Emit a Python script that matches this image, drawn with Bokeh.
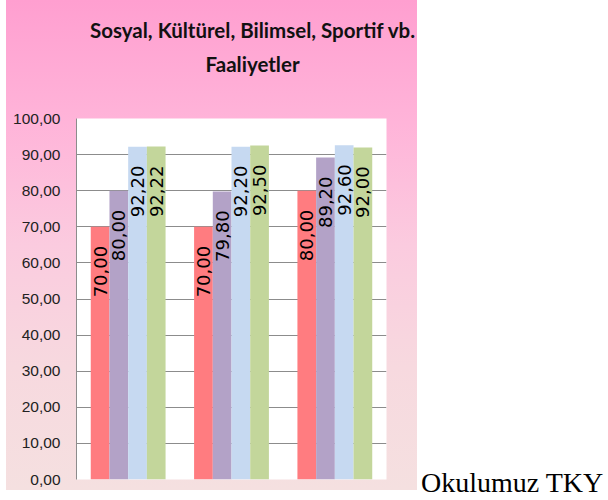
import math
from bokeh.plotting import figure
from bokeh.models import ColumnDataSource, FactorRange, Range1d, FixedTicker, Div
from bokeh.transform import dodge
from bokeh.layouts import row, column
from bokeh.core.properties import value
from bokeh.embed import file_html
from bokeh.resources import INLINE

# ---- data ----
categories = ["Grup 1", "Grup 2", "Grup 3"]
series_names = ["Seri 1", "Seri 2", "Seri 3", "Seri 4"]
series1 = [70.00, 70.00, 80.00]
series2 = [80.00, 79.80, 89.20]
series3 = [92.20, 92.20, 92.60]
series4 = [92.22, 92.50, 92.00]
y_ticks = [0, 10, 20, 30, 40, 50, 60, 70, 80, 90, 100]
y_tick_labels = ["0,00", "10,00", "20,00", "30,00", "40,00", "50,00",
                 "60,00", "70,00", "80,00", "90,00", "100,00"]
title_line1 = "Sosyal, Kültürel, Bilimsel, Sportif vb."
title_line2 = "Faaliyetler"
side_text = "Okulumuz TKY"

colors = ["#ff7c80", "#b3a2c7", "#c6d9f1", "#c3d69b"]
bar_w = 0.181
offsets = [-1.5 * bar_w, -0.5 * bar_w, 0.5 * bar_w, 1.5 * bar_w]

def fmt(v):
    return f"{v:.2f}".replace(".", ",")

all_series = [series1, series2, series3, series4]
data = {"cat": categories}
for i, s in enumerate(all_series):
    data[f"s{i}"] = s
    data[f"l{i}"] = [fmt(v) for v in s]
source = ColumnDataSource(data)

p = figure(x_range=FactorRange(*categories), y_range=Range1d(0, 100),
           width=411, height=382, output_backend="svg", toolbar_location=None,
           min_border_left=70, min_border_right=31, min_border_top=10,
           min_border_bottom=11)

p.border_fill_color = None
p.background_fill_color = "white"
p.outline_line_color = None

for i, s in enumerate(all_series):
    p.vbar(x=dodge("cat", offsets[i], range=p.x_range), top=f"s{i}", width=bar_w,
           source=source, fill_color=colors[i], line_color=None)
    p.text(x=dodge("cat", offsets[i], range=p.x_range), y=f"s{i}", text=f"l{i}",
           source=source, angle=math.pi / 2, text_align="right",
           text_baseline="middle", y_offset=19, text_color="black",
           text_font=value("DejaVu Sans"), text_font_size="18px")

p.xaxis.visible = False
p.xgrid.grid_line_color = None
p.ygrid.grid_line_color = "#8c8c8c"
p.ygrid.ticker = FixedTicker(ticks=y_ticks)

ax = p.yaxis[0]
ax.ticker = FixedTicker(ticks=y_ticks)
ax.major_label_overrides = {t: l for t, l in zip(y_ticks, y_tick_labels)}
ax.axis_line_color = "#8c8c8c"
ax.major_tick_line_color = None
ax.minor_tick_line_color = None
ax.major_tick_out = 0
ax.major_tick_in = 0
ax.major_label_standoff = 16
ax.major_label_text_font = "Liberation Sans"
ax.major_label_text_font_size = "15.5px"
ax.major_label_text_color = "#222222"

title_html = ('<div style="padding-left:84px;padding-top:13px;white-space:nowrap;'
              'text-align:center;font-family:Lato;font-weight:bold;font-size:20.5px;'
              'line-height:34px;color:#111111;">'
              + title_line1 + "<br>" + title_line2 + "</div>")
title_div = Div(text=title_html, width=411, height=108, margin=0)

chart = column(title_div, p)
chart.styles = {"background": "linear-gradient(to bottom, #ff9fd0 0%, #ffb4d9 25%, #fbcbdf 50%, #f7d9df 75%, #f5e0e0 100%)"}

side_div = Div(text=side_text, width=190, height=34, margin=(467, 0, 0, 4),
               styles={"font-family": "Liberation Serif", "font-size": "28px",
                       "color": "black", "line-height": "32px"})

layout = row(chart, side_div)
layout.styles = {"margin-left": "6px"}

open("out.html", "w").write(file_html(layout, INLINE))
